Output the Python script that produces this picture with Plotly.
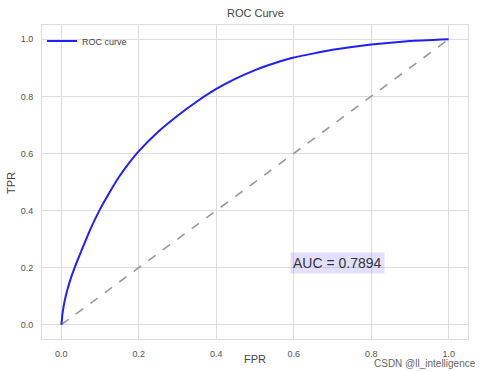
import plotly.graph_objects as go

fpr = [0, 0.003, 0.008, 0.015, 0.025, 0.04, 0.055, 0.075, 0.1, 0.125, 0.15, 0.175,
       0.2, 0.25, 0.3, 0.35, 0.4, 0.45, 0.5, 0.55, 0.6, 0.7, 0.8, 0.9, 1.0]
tpr = [0, 0.04, 0.08, 0.12, 0.165, 0.22, 0.27, 0.335, 0.405, 0.465, 0.52, 0.567,
       0.608, 0.676, 0.732, 0.782, 0.826, 0.862, 0.892, 0.916, 0.936, 0.963, 0.982, 0.994, 1.0]
diag = [0, 1]
tick_vals = [0.0, 0.2, 0.4, 0.6, 0.8, 1.0]
tick_text = ["0.0", "0.2", "0.4", "0.6", "0.8", "1.0"]
auc_text = "AUC = 0.7894"

FONT = "Liberation Sans, Arial, sans-serif"
GRID = "#dddddd"
TXT = "#555555"
W, H = 491, 371
L, R, T, B = 42, 23, 25, 32
PW, PH = W - L - R, H - T - B

fig = go.Figure()
fig.add_trace(go.Scatter(x=diag, y=diag, mode="lines", showlegend=False,
                         line=dict(color="#999999", width=1.6, dash="dash")))
fig.add_trace(go.Scatter(x=fpr, y=tpr, mode="lines", name="ROC curve",
                         line=dict(color="#2020ff", width=2, shape="spline", smoothing=0.3)))

axis_common = dict(range=[-0.05, 1.05], tickvals=tick_vals, ticktext=tick_text,
                   showgrid=True, gridcolor=GRID, gridwidth=1, zeroline=False,
                   showline=True, linecolor=GRID, linewidth=1, mirror=True,
                   tickfont=dict(family=FONT, size=9, color=TXT), ticks="",
                   automargin=False)

fig.update_layout(
    width=W, height=H,
    margin=dict(l=L, r=R, t=T, b=B, autoexpand=False),
    paper_bgcolor="white", plot_bgcolor="white",
    xaxis=dict(**axis_common, ticklabelstandoff=6),
    yaxis=dict(**axis_common, ticklabelstandoff=6),
    legend=dict(x=0.0, y=0.995, xanchor="left", yanchor="top", bgcolor="rgba(255,255,255,0)",
                font=dict(family=FONT, size=9, color="#444444"), itemwidth=30),
    showlegend=True,
)

def px(xp):
    return (xp - L) / PW

def py(yp):
    return (H - B - yp) / PH

fig.add_annotation(x=px(255), y=py(13), xref="paper", yref="paper", text="ROC Curve",
                   showarrow=False, xanchor="center", yanchor="middle",
                   font=dict(family=FONT, size=11, color="#444444"))
fig.add_annotation(x=px(255), y=py(359), xref="paper", yref="paper", text="FPR",
                   showarrow=False, xanchor="center", yanchor="middle",
                   font=dict(family=FONT, size=11, color="#444444"))
fig.add_annotation(x=px(11), y=py(183), xref="paper", yref="paper", text="TPR",
                   showarrow=False, xanchor="center", yanchor="middle", textangle=-90,
                   font=dict(family=FONT, size=11, color="#444444"))

fig.add_annotation(x=0.59, y=0.215, xref="x", yref="y", text=auc_text, showarrow=False,
                   xanchor="left", yanchor="middle",
                   font=dict(family=FONT, size=14, color="#333333"),
                   bgcolor="rgba(120,120,255,0.22)", borderpad=2)

fig.add_annotation(x=px(478), y=py(363), xref="paper", yref="paper", text="CSDN @ll_intelligence",
                   showarrow=False, xanchor="right", yanchor="middle",
                   font=dict(family=FONT, size=10, color="#666666"))

fig.write_html("out.html")
